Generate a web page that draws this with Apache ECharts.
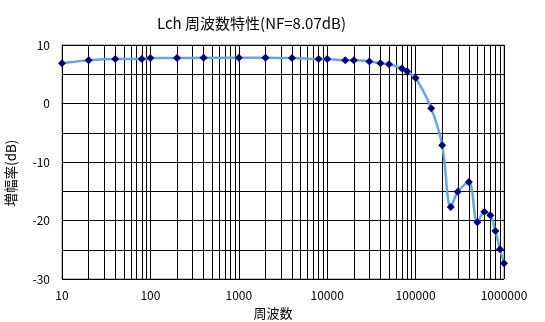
<!DOCTYPE html>
<html><head><meta charset="utf-8">
<script src="https://cdn.jsdelivr.net/npm/echarts@6/dist/echarts.min.js"></script>
<style>html,body{margin:0;padding:0;background:#fff}#c{width:545px;height:322px}</style>
</head><body><div id="c"></div>
<script>
const titleText = 'Lch 周波数特性(NF=8.07dB)';
const xName = '周波数';
const yName = '増幅率(dB)';
const freqs = [10, 20, 40, 80, 100, 200, 400, 1000, 2000, 4000, 8000, 10000, 16000, 20000, 30000, 40000, 50000, 70000, 80000, 100000, 150000, 200000, 250000, 300000, 400000, 500000, 600000, 700000, 800000, 900000, 1000000];
const gains = [6.87, 7.38, 7.6, 7.6, 7.78, 7.78, 7.8, 7.8, 7.8, 7.78, 7.6, 7.6, 7.38, 7.38, 7.2, 6.87, 6.7, 6.0, 5.5, 4.36, -0.82, -7.15, -17.7, -15.1, -13.4, -20.3, -18.5, -19.1, -21.8, -24.9, -27.3];
const yTickLabels = [10, 0, -10, -20, -30];

const gridLines = [];
for (let d = 10; d < 1000000; d *= 10) {
  for (let k = 1; k <= 9; k++) { if (k * d > 10) gridLines.push({ xAxis: k * d }); }
}
gridLines.push({ xAxis: 1000000 });

const font = '"Noto Sans CJK JP", sans-serif';
const chart = echarts.init(document.getElementById('c'), null, { renderer: 'canvas' });
chart.setOption({
  animation: false,
  backgroundColor: '#fff',
  title: { text: titleText, left: 152, top: 11, textStyle: { fontFamily: font, fontSize: 15, fontWeight: 'normal', color: '#000' } },
  grid: { left: 62, right: 41, top: 45, bottom: 43, show: true, borderColor: '#808080', borderWidth: 1, containLabel: false, outerBoundsMode: 'none' },
  xAxis: {
    type: 'log', logBase: 10, min: 10, max: 1000000,
    name: xName, nameLocation: 'middle', nameGap: 28,
    nameTextStyle: { fontFamily: font, fontSize: 13, color: '#000', padding: [0, 20, 0, 0] },
    axisLine: { lineStyle: { color: '#000' } },
    axisTick: { show: false },
    axisLabel: { fontFamily: font, fontSize: 12, color: '#000', margin: 10, formatter: v => String(Math.round(v)) },
    splitLine: { show: false }
  },
  yAxis: {
    type: 'value', min: -30, max: 10, interval: 5,
    name: yName, nameLocation: 'middle', nameGap: 44,
    nameTextStyle: { fontFamily: font, fontSize: 13.5, color: '#000', padding: [0, 22, 0, 0] },
    axisLine: { show: true, lineStyle: { color: '#000' } },
    axisTick: { show: false },
    axisLabel: { fontFamily: font, fontSize: 12, color: '#000', margin: 12,
      formatter: v => yTickLabels.indexOf(v) >= 0 ? String(v) : '' },
    splitLine: { show: true, lineStyle: { color: '#000', width: 1 } }
  },
  series: [{
    type: 'line',
    data: freqs.map((f, i) => [f, gains[i]]),
    smooth: 0.35,
    symbol: 'diamond', symbolSize: 8,
    itemStyle: { color: '#000080' },
    lineStyle: { color: '#64a8de', width: 2.5 },
    z: 5,
    markLine: {
      silent: true, symbol: ['none', 'none'], label: { show: false },
      lineStyle: { color: '#000', width: 1, type: 'solid' },
      z: 1,
      data: gridLines
    }
  }]
});
</script></body></html>
